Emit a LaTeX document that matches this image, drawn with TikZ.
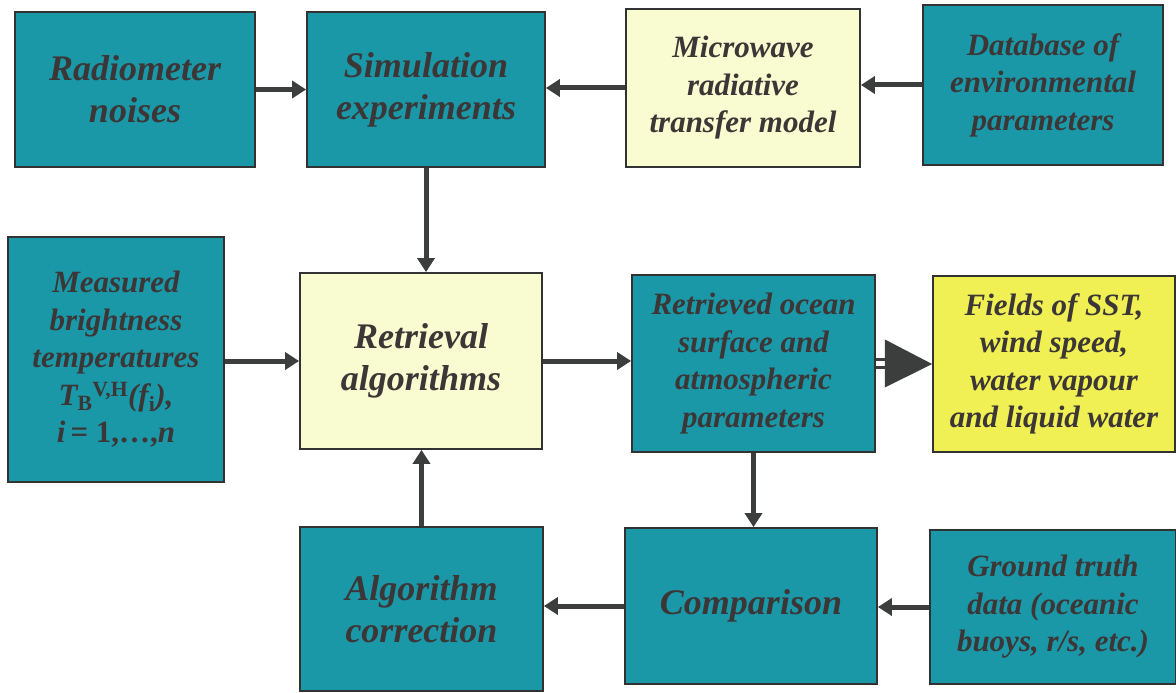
\documentclass[tikz,border=0pt]{standalone}
\usepackage{fontspec}
\setmainfont{Liberation Serif}
\usetikzlibrary{arrows.meta,calc}
\definecolor{teal1}{RGB}{26,152,168}
\definecolor{lyel}{RGB}{248,252,208}
\definecolor{yel}{RGB}{240,240,84}
\definecolor{ink}{RGB}{60,54,54}
\definecolor{edge}{RGB}{50,50,50}
\definecolor{arrc}{RGB}{60,62,62}
\begin{document}
\begin{tikzpicture}[x=1pt,y=-1pt,
  box/.style={draw=edge,line width=1.8pt,rectangle,align=center,text=ink,inner sep=0pt,
    font=\fontsize{31}{37.5}\selectfont\bfseries\itshape},
  big/.style={font=\fontsize{36}{42}\selectfont\bfseries\itshape},
  tealbox/.style={box,fill=teal1},
  lbox/.style={box,fill=lyel},
  ybox/.style={box,fill=yel},
  arr/.style={draw=arrc,line width=5pt,-{Triangle[length=14pt,width=17pt]}}]
\useasboundingbox (0,0) rectangle (1176,693);
\fill[white] (0,0) rectangle (1176,693);

\node[tealbox,big,minimum width=240pt,minimum height=155pt] (rad) at (135,89.5) {Radiometer\\noises};
\node[tealbox,big,minimum width=238pt,minimum height=155pt] (sim) at (426,89.5) {Simulation\\experiments};
\node[lbox,minimum width=234pt,minimum height=158pt] (mw) at (743,88) {Microwave\\radiative\\transfer model};
\node[tealbox,minimum width=240pt,minimum height=160pt] (db) at (1043,85) {Database of\\environmental\\parameters};

\node[tealbox,minimum width=216pt,minimum height=245pt] (meas) at (116,359.5)
  {Measured\\brightness\\temperatures\\\textit{T}\textsubscript{\upshape B}\textsuperscript{\upshape V,H}(\textit{f}\textsubscript{\upshape i}),\\\textit{i}\,{\upshape = 1,\ldots,}\textit{n}};
\node[lbox,big,minimum width=242pt,minimum height=176pt] (ret) at (421,361) {Retrieval\\algorithms};
\node[tealbox,minimum width=243pt,minimum height=177pt] (roc) at (753.5,363.5) {Retrieved ocean\\surface and\\atmospheric\\parameters};
\node[ybox,minimum width=242pt,minimum height=176pt] (fld) at (1054,364) {Fields of SST,\\wind speed,\\water vapour\\and liquid water};

\node[tealbox,big,minimum width=243pt,minimum height=164pt] (alg) at (421.5,609) {Algorithm\\correction};
\node[tealbox,big,minimum width=252pt,minimum height=156pt] (comp) at (751,606) {Comparison};
\node[tealbox,minimum width=246pt,minimum height=154pt] (gt) at (1053,607) {Ground truth\\data (oceanic\\buoys, r/s, etc.)};

\draw[arr] (rad.east) -- (sim.west);
\draw[arr] (mw.west) -- (mw.west -| sim.east);
\draw[arr] (db.west) -- (db.west -| mw.east);
\draw[arr] (sim.south) -- (sim.south |- ret.north);
\draw[arr] (ret.west -| meas.east) -- (ret.west);
\draw[arr] (ret.east) -- (ret.east -| roc.west);
\draw[arr] (roc.south) -- (roc.south |- comp.north);
\draw[arr] (gt.west) -- (gt.west -| comp.east);
\draw[arr] (comp.west) -- (comp.west -| alg.east);
\draw[arr] (alg.north) -- (alg.north |- ret.south);

\draw[arrc,line width=2.2pt] ($(roc.east)+(0,-4)$) -- ++(11,0);
\draw[arrc,line width=2.2pt] ($(roc.east)+(0,4)$) -- ++(11,0);
\fill[arrc] ($(roc.east)+(9,-24)$) -- (fld.west) -- ($(roc.east)+(9,24)$) -- cycle;
\end{tikzpicture}
\end{document}
